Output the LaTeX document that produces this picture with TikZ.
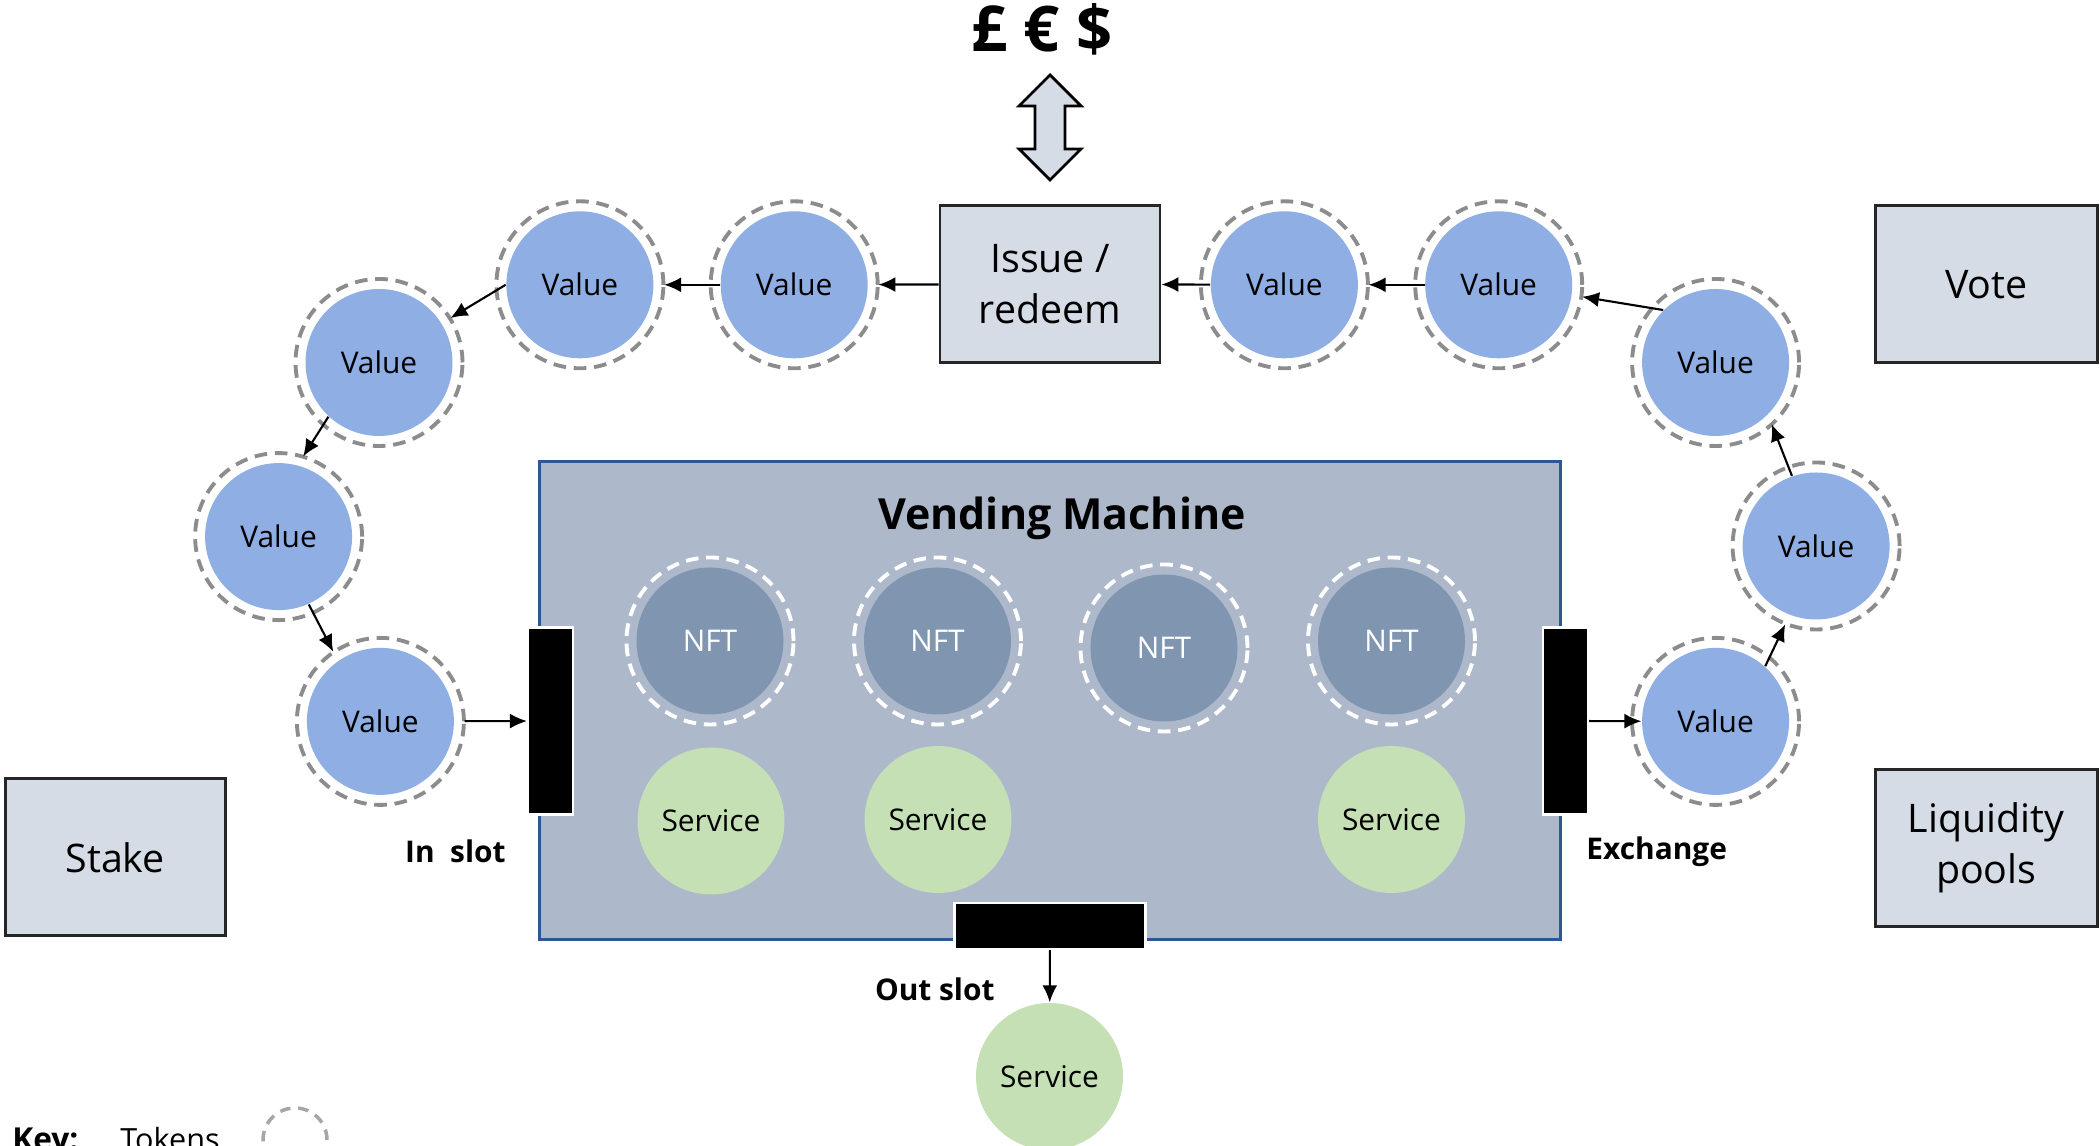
\documentclass[tikz,border=0pt]{standalone}
\usepackage{fontspec}
\setmainfont{Open Sans}
\usetikzlibrary{arrows.meta}
\definecolor{valblue}{RGB}{143,174,227}
\definecolor{nftblue}{RGB}{128,150,176}
\definecolor{vmfill}{RGB}{173,185,202}
\definecolor{vmline}{RGB}{47,85,151}
\definecolor{servgreen}{RGB}{197,224,180}
\definecolor{boxfill}{RGB}{214,220,229}
\definecolor{ringgray}{RGB}{140,140,140}
\tikzset{
  token/.style={circle, inner sep=0pt, minimum size=1.47cm, font=\fontsize{8.5}{10}\selectfont},
  value/.style={token, fill=valblue},
  nft/.style={token, fill=nftblue, text=white},
  service/.style={token, fill=servgreen},
  ring/.style={ringgray, line width=1.1pt, dash pattern=on 3.6pt off 2.2pt},
  nftring/.style={ring, white},
  panel/.style={draw=black!85, line width=0.8pt, fill=boxfill, minimum width=2.2cm,
    minimum height=1.57cm, align=center, font=\fontsize{11.2}{14.4}\selectfont},
  slot/.style={fill=black, draw=white, line width=0.6pt, inner sep=0pt},
  flow/.style={-{Latex[length=1.7mm,width=1.5mm]}, line width=0.6pt},
  toring/.style={flow, shorten >=1mm},
  lbl/.style={font=\bfseries\fontsize{8.5}{10}\selectfont}
}
\begin{document}
\begin{tikzpicture}
\useasboundingbox (0,0) rectangle (21,11.46);
% Vending machine
\node[draw=vmline, fill=vmfill, line width=1pt, minimum width=10.21cm, minimum height=4.78cm] (vm) at (10.5,4.453) {};
\node[font=\bfseries\fontsize{12.2}{15}\selectfont] (title) at (10.62,6.28) {Vending Machine};
\node[nft] (n1) at (7.10,5.05) {NFT};
\node[nft] (n2) at (9.375,5.05) {NFT};
\node[nft] (n3) at (11.64,4.98) {NFT};
\node[nft] (n4) at (13.915,5.05) {NFT};
\foreach \n in {n1,n2,n3,n4} {
    \draw[nftring] (\n) circle (0.835);
}
\node[service] (s1) at (7.11,3.25) {Service};
\node[service] (s2) at (9.38,3.265) {Service};
\node[service] (s3) at (13.915,3.265) {Service};
% Slots
\node[slot, minimum width=0.45cm, minimum height=1.87cm] (inslot) at (5.505,4.25) {};
\node[slot, minimum width=0.45cm, minimum height=1.87cm] (exch) at (15.655,4.25) {};
\node[slot, minimum width=1.91cm, minimum height=0.46cm] (outslot) at (10.5,2.2) {};
\node[lbl] (inlbl) at (4.554,2.946) {In\ \ slot};
\node[lbl] (exlbl) at (16.567,2.946) {Exchange};
\node[lbl] (outlbl) at (9.348,1.567) {Out slot};
\node[service] (sout) at (10.495,0.695) {Service};
% Boxes
\node[panel] (issue) at (10.5,8.618) {Issue /\\redeem};
\node[panel, minimum width=2.22cm] (vote) at (19.862,8.618) {Vote};
\node[panel] (stake) at (1.152,2.886) {Stake};
\node[panel, minimum width=2.22cm] (pools) at (19.862,2.98) {Liquidity\\pools};
% Currencies
\node[font=\bfseries\fontsize{18}{20}\selectfont] (cur) at (10.42,11.17) {£ € \$};
\draw[fill=boxfill, line width=0.8pt] (10.5,10.71) -- (10.19,10.40) -- (10.35,10.40) -- (10.35,9.97)
    -- (10.19,9.97) -- (10.5,9.66) -- (10.81,9.97) -- (10.65,9.97) -- (10.65,10.40) -- (10.81,10.40) -- cycle;
% Value tokens
\node[value] (v1) at (5.799,8.612) {Value};
\node[value] (v2) at (7.942,8.612) {Value};
\node[value] (v3) at (12.844,8.612) {Value};
\node[value] (v4) at (14.987,8.612) {Value};
\node[value] (v5) at (17.156,7.835) {Value};
\node[value] (v6) at (18.161,6.0) {Value};
\node[value] (v7) at (17.156,4.246) {Value};
\node[value] (v8) at (3.79,7.835) {Value};
\node[value] (v9) at (2.786,6.094) {Value};
\node[value] (v10) at (3.804,4.246) {Value};
\foreach \n in {v1,v2,v3,v4,v5,v6,v7,v8,v9,v10} {
    \draw[ring] (\n) circle (0.835);
}
% Flow
\draw[flow] (exch) -- (v7);
\draw[toring] (v7.48) -- (v6.249);
\draw[toring] (v6.109) -- (v5.315);
\draw[toring] (v5.135) -- (v4.352);
\draw[toring] (v4) -- (v3);
\draw[flow] (v3) -- (issue);
\draw[toring] (issue) -- (v2);
\draw[toring] (v2) -- (v1);
\draw[toring] (v1.west) -- (v8.32);
\draw[toring] (v8.227) -- (v9.75);
\draw[toring] (v9.294) -- (v10.125);
\draw[flow, shorten <=1mm] (v10) -- (inslot);
\draw[flow] (outslot) -- (sout);
% Key
\node[font=\bfseries\fontsize{9}{11}\selectfont, anchor=base west] (key) at (0.0,-0.05) {Key:};
\node[font=\fontsize{8.7}{11}\selectfont, anchor=base west] (keytxt) at (1.08,-0.05) {Tokens};
\node[circle, draw=gray!70, line width=1pt, dash pattern=on 3pt off 2.2pt, minimum size=0.64cm] (keytok) at (2.95,0.06) {};
\end{tikzpicture}
\end{document}
